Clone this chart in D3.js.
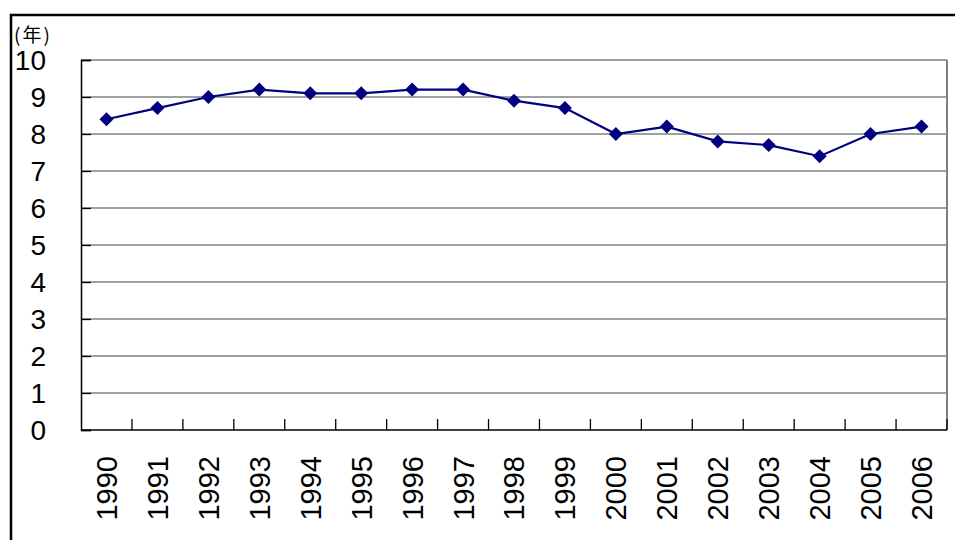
<!DOCTYPE html>
<html>
<head>
<meta charset="utf-8">
<script src="https://cdn.jsdelivr.net/npm/d3@7"></script>
<style>
  body { margin: 0; background: #fff; }
  svg { display: block; }
</style>
</head>
<body>
<div id="chart"></div>
<script>
// data
const years = ["1990","1991","1992","1993","1994","1995","1996","1997","1998","1999","2000","2001","2002","2003","2004","2005","2006"]
const values = [8.4, 8.7, 9.0, 9.2, 9.1, 9.1, 9.2, 9.2, 8.9, 8.7, 8.0, 8.2, 7.8, 7.7, 7.4, 8.0, 8.2]
const yTicks = [0, 1, 2, 3, 4, 5, 6, 7, 8, 9, 10]
const unitLabel = "(年)"

const W = 955, H = 540
const PLOT = {LEFT: 81, TOP: 60, RIGHT: 947, BOTTOM: 430}
const FONT = "'Liberation Sans', Arial, sans-serif"

const svg = d3.select("#chart").append("svg")
  .attr("width", W)
  .attr("height", H)

// outer frame (runs off the right / bottom)
svg.append("rect")
  .attr("x", 11).attr("y", 15)
  .attr("width", 1000).attr("height", 600)
  .attr("fill", "none")
  .attr("stroke", "#000")
  .attr("stroke-width", 2.5)

const x = d3.scaleBand()
  .domain(years)
  .range([PLOT.LEFT, PLOT.RIGHT])

const y = d3.scaleLinear()
  .domain([0, 10])
  .range([PLOT.BOTTOM, PLOT.TOP])

// gridlines
svg.append("g")
  .selectAll("line")
  .data(yTicks.filter(d => d > 0))
  .join("line")
  .attr("x1", PLOT.LEFT).attr("x2", PLOT.RIGHT)
  .attr("y1", d => y(d)).attr("y2", d => y(d))
  .attr("stroke", "#808080")
  .attr("stroke-width", 1.3)

// right border of plot area
svg.append("line")
  .attr("x1", PLOT.RIGHT).attr("x2", PLOT.RIGHT)
  .attr("y1", PLOT.TOP).attr("y2", PLOT.BOTTOM)
  .attr("stroke", "#808080")
  .attr("stroke-width", 2)

// y axis, ticks pointing inward
const yAxis = svg.append("g")
  .attr("transform", `translate(${PLOT.LEFT},0)`)
  .call(d3.axisRight(y).tickValues(yTicks).tickSize(10).tickFormat(""))
yAxis.select(".domain").attr("stroke-width", 1.5)
yAxis.selectAll(".tick line").attr("stroke-width", 1.3)

svg.append("g")
  .selectAll("text")
  .data(yTicks)
  .join("text")
  .attr("x", 46)
  .attr("y", d => y(d))
  .attr("dy", "0.36em")
  .attr("text-anchor", "end")
  .attr("font-family", FONT)
  .attr("font-size", 28)
  .text(d => d)

// x axis, ticks at band edges pointing up
const edges = years.map(d => x(d)).concat([PLOT.RIGHT]).slice(1)
svg.append("line")
  .attr("x1", PLOT.LEFT).attr("x2", PLOT.RIGHT)
  .attr("y1", PLOT.BOTTOM).attr("y2", PLOT.BOTTOM)
  .attr("stroke", "#000").attr("stroke-width", 1.5)
svg.append("g")
  .selectAll("line")
  .data(edges)
  .join("line")
  .attr("x1", d => d).attr("x2", d => d)
  .attr("y1", PLOT.BOTTOM).attr("y2", PLOT.BOTTOM - 11)
  .attr("stroke", "#000").attr("stroke-width", 1.3)

svg.append("g")
  .selectAll("text")
  .data(years)
  .join("text")
  .attr("transform", d => `translate(${x(d) + x.bandwidth() / 2},456) rotate(-90)`)
  .attr("dy", "0.36em")
  .attr("text-anchor", "end")
  .attr("font-family", FONT)
  .attr("font-size", 29)
  .text(d => d)

// unit label
svg.append("text")
  .attr("x", 14).attr("y", 42)
  .attr("font-family", "'Noto Sans CJK JP', sans-serif")
  .attr("font-size", 19)
  .attr("letter-spacing", 2)
  .text(unitLabel)

// series
const pts = years.map((d, i) => [x(d) + x.bandwidth() / 2, y(values[i])])

svg.append("path")
  .attr("d", d3.line()(pts))
  .attr("fill", "none")
  .attr("stroke", "#000080")
  .attr("stroke-width", 2.2)

svg.append("g")
  .selectAll("path")
  .data(pts)
  .join("path")
  .attr("transform", d => `translate(${d[0]},${d[1]})`)
  .attr("d", "M0,-7L7,0L0,7L-7,0Z")
  .attr("fill", "#000080")
</script>
</body>
</html>
